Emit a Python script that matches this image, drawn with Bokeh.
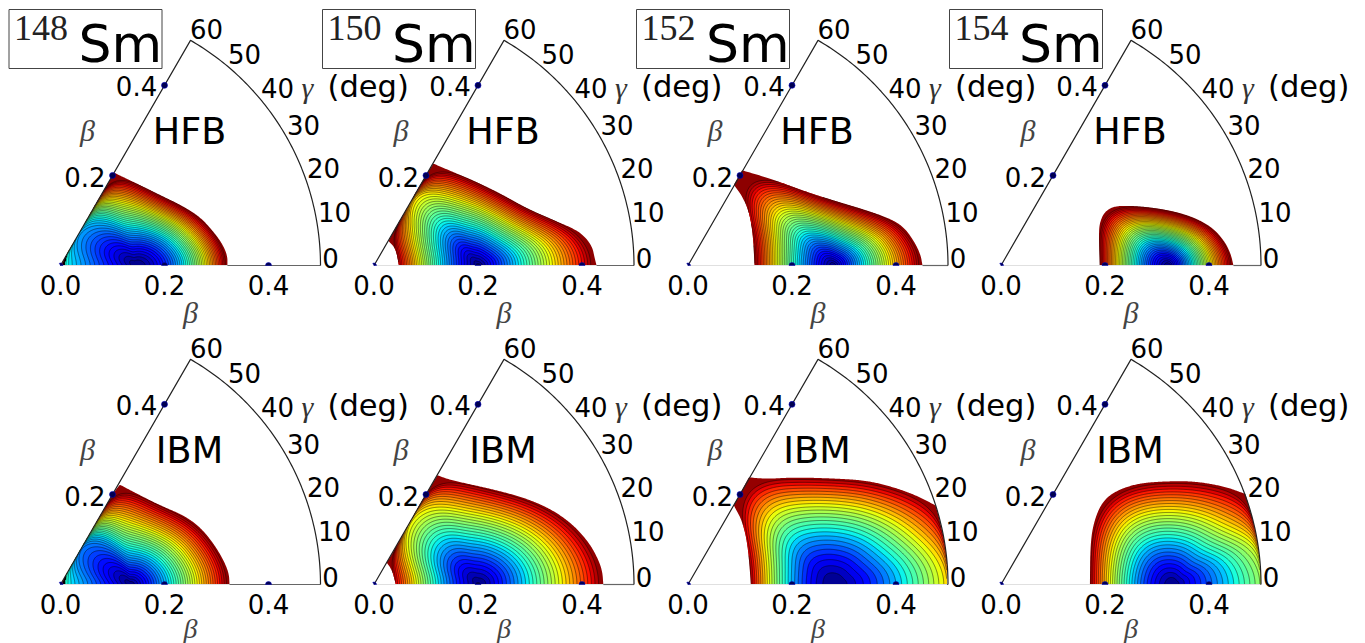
import numpy as np
from bokeh.plotting import figure
from bokeh.core.properties import value
from bokeh.embed import file_html
from bokeh.resources import INLINE

# ---- data (beta-plane coordinates, energy on 0..1) ----
ISOTOPES = ["148", "150", "152", "154"]
METHODS = ["HFB", "IBM"]
BETA_TICKS = [0.0, 0.2, 0.4]
EDGE_BETA_TICKS = [0.2, 0.4]
GAMMA_TICKS = [0, 10, 20, 30, 40, 50, 60]

HFB_148_X = [.321, .321, .311, .295, .269, .234, .192, .154, .104, .092, .081, .066, .052, .035, .017, 0]
HFB_148_Y = [0, .019, .042, .064, .093, .115, .135, .154, .178, .160, .140, .115, .090, .060, .030, 0]
HFB_148_E = [1, 1, 1, 1, 1, 1, 1, 1, 1, .90, .70, .48, .33, .27, .32, .42]

HFB_150_X = [.428, .424, .420, .407, .388, .346, .295, .244, .192, .154, .114, .101, .092, .081, .067, .052, .037, .028, .042, .048]
HFB_150_Y = [0, .016, .035, .054, .069, .087, .109, .138, .163, .179, .196, .175, .160, .141, .115, .090, .065, .047, .032, 0]
HFB_150_E = [1, 1, 1, 1, 1, 1, 1, 1, 1, 1, 1, .88, .72, .65, .68, .80, .93, 1, 1, 1]

HFB_152_X = [.451, .447, .434, .415, .389, .344, .280, .229, .178, .139, .104, .088, .102, .117, .125, .128]
HFB_152_Y = [0, .022, .048, .074, .090, .106, .125, .141, .160, .173, .183, .155, .137, .106, .061, 0]
HFB_152_E = [1] * 16

HFB_154_X = [.447, .442, .431, .409, .377, .338, .294, .249, .217, .199, .190, .188, .190]
HFB_154_Y = [0, .022, .045, .071, .090, .103, .111, .115, .114, .103, .083, .061, 0]
HFB_154_E = [1] * 13

IBM_148_X = [.325, .324, .314, .295, .269, .237, .192, .154, .114, .101, .087, .072, .058, .040, .023, .012, 0]
IBM_148_Y = [0, .021, .046, .078, .110, .133, .152, .171, .192, .175, .150, .125, .100, .070, .040, .020, 0]
IBM_148_E = [1, 1, 1, 1, 1, 1, 1, 1, 1, .92, .72, .52, .30, .22, .28, .36, .44]

IBM_150_X = [.441, .439, .429, .413, .385, .346, .295, .237, .179, .147, .122, .108, .093, .071, .053, .038, .027, .024, .035, .042]
IBM_150_Y = [0, .027, .053, .081, .113, .142, .165, .181, .194, .201, .210, .187, .162, .123, .091, .065, .046, .043, .027, 0]
IBM_150_E = [1, 1, 1, 1, 1, 1, 1, 1, 1, 1, 1, .85, .72, .63, .68, .84, .97, 1, 1, 1]

IBM_152_X = [.498, .498, .492, .483, .476, .440, .396, .344, .280, .203, .152, .117, .088, .104, .115, .121]
IBM_152_Y = [0, .044, .087, .129, .152, .171, .187, .200, .204, .206, .203, .206, .152, .123, .078, 0]
IBM_152_E = [.66, .70, .82, .95, 1, 1, 1, 1, 1, 1, 1, 1, 1, 1, 1, 1]

IBM_154_X = [.499, .498, .492, .483, .470, .435, .396, .358, .306, .262, .223, .197, .181, .172, .171]
IBM_154_Y = [0, .044, .087, .129, .174, .187, .195, .199, .198, .194, .181, .162, .129, .085, 0]
IBM_154_E = [.52, .56, .65, .85, 1, 1, 1, 1, 1, 1, 1, 1, 1, 1, 1]

MINIMA = {"HFB148": .145, "HFB150": .202, "HFB152": .28, "HFB154": .322,
          "IBM148": .135, "IBM150": .205, "IBM152": .283, "IBM154": .332}
# how sharply the surface rises toward larger beta / smaller beta
STEEP_RIGHT = {"HFB148": 1.7, "HFB150": 1.05, "HFB152": 1.0, "HFB154": 1.05,
               "IBM148": 1.15, "IBM150": 1.1, "IBM152": 1.25, "IBM154": 0.95}
STEEP_LEFT = {"HFB148": 1.0, "HFB150": 1.3, "HFB152": 1.2, "HFB154": 1.3,
              "IBM148": 1.0, "IBM150": 1.4, "IBM152": 1.6, "IBM154": 1.5}
N_LEVELS = {"HFB148": 42, "HFB150": 40, "HFB152": 42, "HFB154": 42,
            "IBM148": 40, "IBM150": 32, "IBM152": 26, "IBM154": 30}
SURFACES = {
    "HFB148": (HFB_148_X, HFB_148_Y, HFB_148_E), "HFB150": (HFB_150_X, HFB_150_Y, HFB_150_E),
    "HFB152": (HFB_152_X, HFB_152_Y, HFB_152_E), "HFB154": (HFB_154_X, HFB_154_Y, HFB_154_E),
    "IBM148": (IBM_148_X, IBM_148_Y, IBM_148_E), "IBM150": (IBM_150_X, IBM_150_Y, IBM_150_E),
    "IBM152": (IBM_152_X, IBM_152_Y, IBM_152_E), "IBM154": (IBM_154_X, IBM_154_Y, IBM_154_E),
}

# ---- layout ----
SCALE = 520.0
W, H = 1365, 643
OX = [60.0, 373.5, 687.5, 1000.5]
OY = [265.0, 584.0]
SANS = value("DejaVu Sans")
SERIF = value("Liberation Serif")


def jet(v):
    r = np.interp(v, [0, .35, .66, .89, 1], [0, 0, 1, 1, .5])
    g = np.interp(v, [0, .125, .375, .64, .91, 1], [0, 0, 1, 1, 0, 0])
    b = np.interp(v, [0, .11, .34, .65, 1], [.5, 1, 1, 0, 0])
    return "#%02x%02x%02x" % (int(r * 255), int(g * 255), int(b * 255))


def px(x):
    return x / SCALE


def py(y):
    return (643 - y) / SCALE


p = figure(width=W, height=H, output_backend="svg", toolbar_location=None,
           x_range=(px(0), px(W)), y_range=(py(H), py(0)),
           x_axis_location=None, y_axis_location=None, min_border=0,
           background_fill_color="white", border_fill_color="white")
p.grid.visible = False
p.outline_line_color = None


def label(x, y, s, size, align="center", base="middle", font=SANS, color="#000000", style="normal"):
    p.text([px(x)], [py(y)], text=[s], text_font=font, text_font_size=f"{size}px",
           text_align=align, text_baseline=base, text_color=color, text_font_style=style)


THETA = np.radians(np.linspace(0, 180, 361))


def gauss(a, sig):
    half = int(3 * sig)
    kernel = np.exp(-0.5 * (np.arange(-half, half + 1) / sig) ** 2)
    kernel /= kernel.sum()
    return np.convolve(np.pad(a, half, mode="reflect"), kernel, mode="valid")


def chaikin(X, Y, E, rounds=3):
    pts = []
    for i in range(len(X)):
        on_rim = abs(Y[i] - 1.732 * X[i]) < .006 or abs(np.hypot(X[i], Y[i]) - .5) < .006
        nb = [j for j in (i - 1, i + 1) if 0 <= j < len(X)]
        nb_rim = [abs(Y[j] - 1.732 * X[j]) < .006 or abs(np.hypot(X[j], Y[j]) - .5) < .006 for j in nb]
        pts.append((X[i], Y[i], E[i]))
        if on_rim and not all(nb_rim):
            pts.append((X[i], Y[i], E[i]))
    a = np.array(pts, float)
    for _ in range(rounds):
        q = .75 * a[:-1] + .25 * a[1:]
        s = .25 * a[:-1] + .75 * a[1:]
        m = np.empty((2 * len(q), 3))
        m[0::2], m[1::2] = q, s
        a = np.vstack([a[0], m, a[-1]])
    return a[:, 0], a[:, 1], a[:, 2]


def draw_surface(key, ox, oy):
    X, Y, E = [np.asarray(v, float) for v in SURFACES[key]]
    c, n = MINIMA[key], N_LEVELS[key]
    pw = STEEP_RIGHT[key] + (STEEP_LEFT[key] - STEEP_RIGHT[key]) * THETA / np.pi
    X, Y, E = chaikin(X, Y, E)
    ang = np.arctan2(Y, X - c)
    rad = np.hypot(X - c, Y)
    order = np.argsort(ang)
    Rb = np.interp(THETA, ang[order], rad[order])
    Eb = np.interp(THETA, ang[order], E[order])
    Rs = gauss(Rb, 50.0)

    x0, y0 = ox / SCALE, (643 - oy) / SCALE
    fx, fy, fc, lx, ly = [], [], [], [], []
    for k in range(n, 0, -1):
        L = k / n
        t = (L / Eb) ** (1 / pw)
        tc = np.minimum(t, 1.0)
        r = tc * (tc * Rb + (1 - tc) * Rs)
        r = Rb.copy() if k == n else np.minimum(gauss(r, 16.0), Rb)
        x = x0 + c + r * np.cos(THETA)
        y = y0 + r * np.sin(THETA)
        fx.append(x)
        fy.append(y)
        fc.append(jet((k - .5) / n))
        if k < n:
            idx = np.where(r < Rb * 0.997)[0]
            if len(idx):
                for run in np.split(idx, np.where(np.diff(idx) > 1)[0] + 1):
                    if len(run) > 1:
                        lx.append(x[run])
                        ly.append(y[run])
    p.patches(fx, fy, fill_color=fc, line_color=None)
    p.multi_line(lx, ly, line_color="#000000", line_width=0.7, line_alpha=0.65)


GAMMA_OFF = {0: (270, -8), 10: (274, -54), 20: (263, -98), 30: (243, -141),
             40: (217, -178), 50: (184, -212), 60: (146, -237)}
ARC = np.radians(np.linspace(0, 60, 91))

for j, method in enumerate(METHODS):
    for i, iso in enumerate(ISOTOPES):
        ox, oy = OX[i], OY[j]
        x0, y0 = ox / SCALE, (643 - oy) / SCALE
        key = method + iso
        draw_surface(key, ox, oy)

        # wedge frame
        right = SURFACES[key][0][0]
        p.line([x0, x0 + .5], [y0, y0], line_color="#e0e0e0", line_width=1.2)
        p.line([x0 + right, x0 + .5], [y0, y0], line_color="#666666", line_width=1.2)
        p.line(np.r_[x0, x0 + .5 * np.cos(ARC[::-1])], np.r_[y0, y0 + .5 * np.sin(ARC[::-1])],
               line_color="#222222", line_width=1.2)

        # beta markers
        p.wedge([x0 + b for b in EDGE_BETA_TICKS], [y0] * 2, radius=3 / SCALE,
                start_angle=0, end_angle=np.pi, fill_color="#000050", line_color="#0000c0", line_width=0.5)
        p.wedge([x0], [y0], radius=2.5 / SCALE, start_angle=0, end_angle=np.pi * 2 / 3,
                fill_color="#000050", line_color="#0000c0", line_width=0.5)
        p.scatter([x0 + b * .5 for b in EDGE_BETA_TICKS], [y0 + b * np.sqrt(3) / 2 for b in EDGE_BETA_TICKS],
                  size=6, fill_color="#000050", line_color="#0000c0", line_width=0.6)

        # tick labels
        for b in BETA_TICKS:
            label(ox + b * SCALE, oy + 19, f"{b:.1f}", 26)
        label(ox + 45, oy - 89, "0.2", 26, align="right")
        label(ox + 96.7, oy - 180, "0.4", 26, align="right")
        for g in GAMMA_TICKS:
            d = GAMMA_OFF[g]
            label(ox + d[0], oy + d[1], str(g), 26)

        # axis titles
        if j == 0:
            label(ox + 130, oy + 47, "β", 30, font=SERIF, color="#444444", style="italic")
        else:
            label(ox + 130, oy + 44, "β", 28, font=SERIF, color="#444444", style="italic")
        label(ox + 27, oy - 135, "β", 30, font=SERIF, color="#444444", style="italic")
        label(ox + 247, oy - 178, "γ", 30, font=SERIF, color="#333333", style="italic")
        label(ox + 267, oy - 179, "(deg)", 30.5, align="left")
        label(ox + 129, oy - 134, method, 36.5)

        if j == 0:
            p.quad(left=[px(ox - 51.5)], right=[px(ox + 101.5)], top=[py(9)], bottom=[py(68)],
                   fill_color=None, line_color="#444444", line_width=1)
            label(ox - 46.5, 27, iso, 36, align="left", font=SERIF, color="#222222")
            label(ox + 18, 43, "Sm", 52, align="left")

open("out.html", "w").write(file_html(p, INLINE))
